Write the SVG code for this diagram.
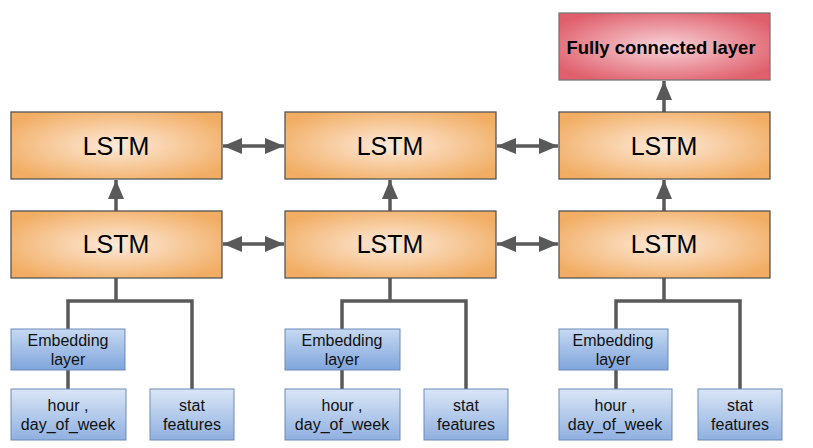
<svg xmlns="http://www.w3.org/2000/svg" width="813" height="448" viewBox="0 0 813 448">
<defs>
<radialGradient id="og" cx="50%" cy="50%" r="60%" fx="50%" fy="50%">
<stop offset="0" stop-color="#fdeada"/>
<stop offset="1" stop-color="#f1ad63"/>
</radialGradient>
<radialGradient id="rg" cx="50%" cy="50%" r="60%">
<stop offset="0" stop-color="#f8d3d8"/>
<stop offset="1" stop-color="#df5f6c"/>
</radialGradient>
<linearGradient id="bg" x1="0" y1="0" x2="0" y2="1">
<stop offset="0" stop-color="#c6d9f1"/>
<stop offset="1" stop-color="#7fa5dc"/>
</linearGradient>
<linearGradient id="bg2" x1="0" y1="0" x2="0" y2="1">
<stop offset="0" stop-color="#dae6f6"/>
<stop offset="1" stop-color="#8fb0e0"/>
</linearGradient>
<marker id="ah" viewBox="0 0 19 16" refX="19" refY="8" markerWidth="19" markerHeight="16" orient="auto-start-reverse" markerUnits="userSpaceOnUse">
<path d="M0,0 L19,8 L0,16 z" fill="#595959"/>
</marker>
</defs>
<style>
.lstm{fill:url(#og);stroke:#555;stroke-width:1.3}
.fc{fill:url(#rg);stroke:#777;stroke-width:1.3}
.emb{fill:url(#bg);stroke:#6d89b8;stroke-width:1}
.inp{fill:url(#bg2);stroke:#6d89b8;stroke-width:1}
.big{font-family:"Liberation Sans",Arial,sans-serif;font-size:25px;fill:#000;text-anchor:middle}
.sm{font-family:"Liberation Sans",Arial,sans-serif;font-size:16px;fill:#111;text-anchor:middle}
.fct{font-family:"Liberation Sans",Arial,sans-serif;font-size:18.5px;font-weight:bold;fill:#000;text-anchor:middle}
.ln{fill:none;stroke:#595959;stroke-width:3.5}
.ar{fill:none;stroke:#595959;stroke-width:3.5;marker-end:url(#ah)}
.ar2{fill:none;stroke:#595959;stroke-width:3.5;marker-start:url(#ah);marker-end:url(#ah)}
</style>
<g id="connectors">
<path class="ar" d="M116,211 V180"/>
<path class="ar" d="M390,211 V180"/>
<path class="ar" d="M664,211 V180"/>
<path class="ar" d="M664,112 V81"/>
<path class="ar2" d="M223,146 H284"/>
<path class="ar2" d="M497,146 H558"/>
<path class="ar2" d="M223,244 H284"/>
<path class="ar2" d="M497,244 H558"/>
<path class="ln" d="M116,278 V301 M68,329 V301 H192 V389 M68,370 V389"/>
<path class="ln" d="M390,278 V301 M342,329 V301 H466 V389 M342,370 V389"/>
<path class="ln" d="M664,278 V301 M616,329 V301 H740 V389 M616,370 V389"/>
</g>
<g id="fc"><rect class="fc" x="559" y="13" width="211" height="67"/><text class="fct" x="661" y="54">Fully connected layer</text></g>
<g id="lstm-1-2"><rect class="lstm" x="11" y="112" width="211" height="67"/><text class="big" x="116" y="155">LSTM</text></g>
<g id="lstm-2-2"><rect class="lstm" x="285" y="112" width="211" height="67"/><text class="big" x="390" y="155">LSTM</text></g>
<g id="lstm-3-2"><rect class="lstm" x="559" y="112" width="211" height="67"/><text class="big" x="664" y="155">LSTM</text></g>
<g id="lstm-1-1"><rect class="lstm" x="11" y="211" width="211" height="67"/><text class="big" x="116" y="253">LSTM</text></g>
<g id="lstm-2-1"><rect class="lstm" x="285" y="211" width="211" height="67"/><text class="big" x="390" y="253">LSTM</text></g>
<g id="lstm-3-1"><rect class="lstm" x="559" y="211" width="211" height="67"/><text class="big" x="664" y="253">LSTM</text></g>
<g id="emb-1"><rect class="emb" x="11" y="329" width="114" height="41"/><text class="sm" x="68" y="346">Embedding</text><text class="sm" x="68" y="365">layer</text></g>
<g id="emb-2"><rect class="emb" x="285" y="329" width="115" height="41"/><text class="sm" x="342" y="346">Embedding</text><text class="sm" x="342" y="365">layer</text></g>
<g id="emb-3"><rect class="emb" x="559" y="329" width="109" height="41"/><text class="sm" x="613" y="346">Embedding</text><text class="sm" x="613" y="365">layer</text></g>
<g id="hour-1"><rect class="inp" x="11" y="389" width="115" height="51"/><text class="sm" x="68" y="411">hour ,</text><text class="sm" x="68" y="430">day_of_week</text></g>
<g id="hour-2"><rect class="inp" x="285" y="389" width="115" height="51"/><text class="sm" x="342" y="411">hour ,</text><text class="sm" x="342" y="430">day_of_week</text></g>
<g id="hour-3"><rect class="inp" x="559" y="389" width="113" height="51"/><text class="sm" x="615" y="411">hour ,</text><text class="sm" x="615" y="430">day_of_week</text></g>
<g id="stat-1"><rect class="inp" x="150" y="389" width="84" height="51"/><text class="sm" x="192" y="411">stat</text><text class="sm" x="192" y="430">features</text></g>
<g id="stat-2"><rect class="inp" x="424" y="389" width="84" height="51"/><text class="sm" x="466" y="411">stat</text><text class="sm" x="466" y="430">features</text></g>
<g id="stat-3"><rect class="inp" x="698" y="389" width="84" height="51"/><text class="sm" x="740" y="411">stat</text><text class="sm" x="740" y="430">features</text></g>
</svg>
